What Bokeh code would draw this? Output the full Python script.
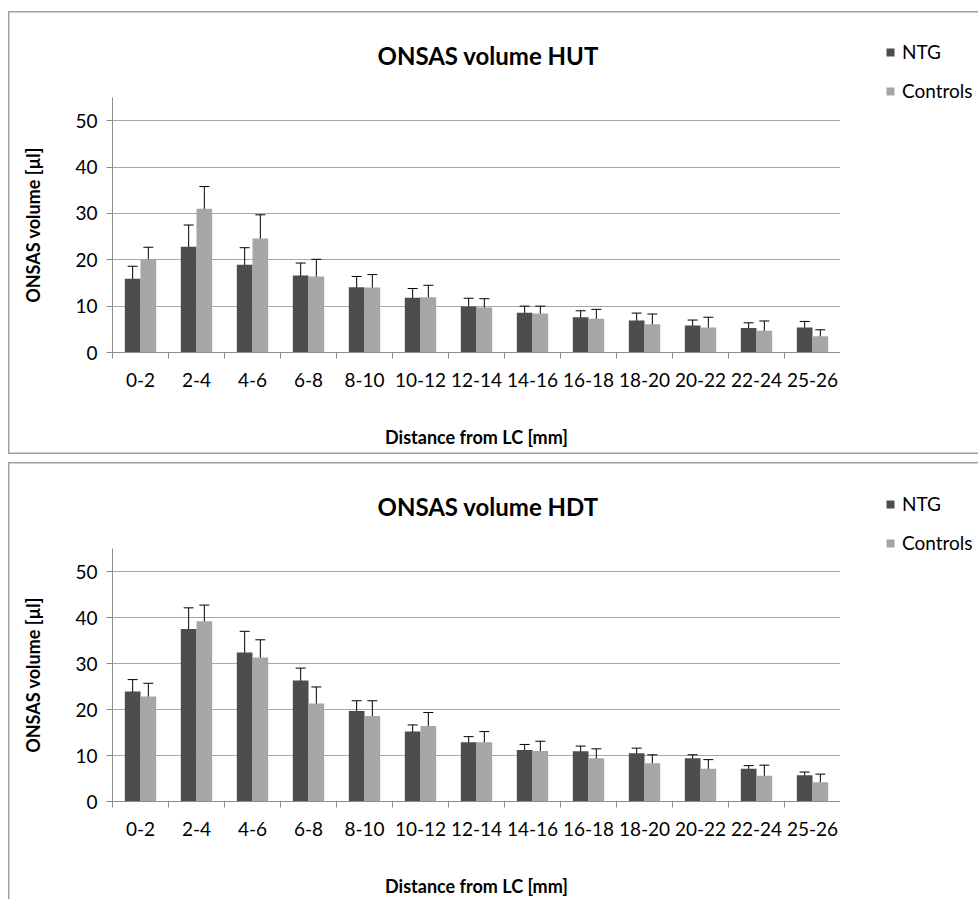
from bokeh.plotting import figure
from bokeh.models import (ColumnDataSource, Range1d, LinearAxis,
                          FixedTicker, Whisker, TeeHead, Legend, LegendItem, Spacer)
from bokeh.layouts import column, row
from bokeh.transform import dodge
from bokeh.embed import file_html
from bokeh.resources import INLINE

categories = ["0-2", "2-4", "4-6", "6-8", "8-10", "10-12", "12-14",
              "14-16", "16-18", "18-20", "20-22", "22-24", "25-26"]

hut_ntg = [15.9, 22.8, 18.9, 16.6, 14.1, 11.8, 9.9, 8.6, 7.6, 6.9, 5.8, 5.3, 5.4]
hut_ntg_err = [2.7, 4.7, 3.7, 2.7, 2.3, 2.0, 1.8, 1.4, 1.4, 1.6, 1.2, 1.1, 1.3]
hut_ctrl = [20.1, 31.0, 24.6, 16.4, 14.0, 11.9, 9.7, 8.4, 7.3, 6.1, 5.4, 4.7, 3.5]
hut_ctrl_err = [2.6, 4.8, 5.1, 3.7, 2.8, 2.6, 1.9, 1.6, 2.0, 2.2, 2.2, 2.1, 1.4]

hdt_ntg = [23.9, 37.5, 32.4, 26.3, 19.7, 15.2, 12.9, 11.2, 10.9, 10.5, 9.4, 7.1, 5.7]
hdt_ntg_err = [2.6, 4.6, 4.6, 2.7, 2.2, 1.45, 1.2, 1.2, 1.15, 1.1, 0.75, 0.7, 0.7]
hdt_ctrl = [22.8, 39.2, 31.3, 21.3, 18.6, 16.4, 12.9, 11.0, 9.4, 8.3, 7.1, 5.6, 4.2]
hdt_ctrl_err = [2.9, 3.5, 3.85, 3.6, 3.3, 2.95, 2.3, 2.1, 2.05, 1.85, 2.0, 2.3, 1.75]

y_ticks = [0, 10, 20, 30, 40, 50]
series_names = ["NTG", "Controls"]
NTG_COLOR = "#4d4d4d"
CTRL_COLOR = "#a6a6a6"
AXIS_COLOR = "#8c8c8c"
GRID_COLOR = "#a8a8a8"
FONT = "Lato"

n = len(categories)
centers = [i + 0.5 for i in range(n)]
boundaries = list(range(n + 1))

MAIN_W = 832
LEG_W = 138


def make_panel(title, ntg, ntg_err, ctrl, ctrl_err, height, legend_y, shadow):
    src = ColumnDataSource(dict(
        pos=centers,
        ntg=ntg,
        ntg_lo=[v - e for v, e in zip(ntg, ntg_err)],
        ntg_hi=[v + e for v, e in zip(ntg, ntg_err)],
        ctrl=ctrl,
        ctrl_lo=[v - e for v, e in zip(ctrl, ctrl_err)],
        ctrl_hi=[v + e for v, e in zip(ctrl, ctrl_err)],
    ))
    p = figure(width=MAIN_W, height=height,
               x_range=Range1d(0, n), y_range=Range1d(0, 55),
               output_backend="svg", toolbar_location=None,
               x_axis_location=None, y_axis_location="left",
               min_border_left=104, min_border_right=0,
               min_border_top=81, min_border_bottom=height - 341,
               title=title)
    p.frame_align = False
    p.border_fill_alpha = 0
    p.background_fill_alpha = 0
    p.outline_line_color = None

    p.title.align = "left"
    p.title.offset = 265
    p.title.standoff = 55
    p.title.text_font = FONT
    p.title.text_font_size = "24px"
    p.title.text_font_style = "bold"
    p.title.text_color = "#000000"

    # y axis
    ya = p.yaxis[0]
    ya.ticker = FixedTicker(ticks=y_ticks, minor_ticks=[])
    ya.axis_label = "ONSAS volume [µl]"
    ya.axis_label_text_font = FONT
    ya.axis_label_text_font_size = "18px"
    ya.axis_label_text_font_style = "bold"
    ya.axis_label_text_color = "#000000"
    ya.axis_label_standoff = 28
    ya.major_label_text_font = FONT
    ya.major_label_text_font_size = "19px"
    ya.major_label_text_color = "#000000"
    ya.major_label_standoff = 9
    ya.major_tick_out = 6
    ya.major_tick_in = 0
    ya.minor_tick_out = 0
    ya.minor_tick_in = 0
    ya.axis_line_color = AXIS_COLOR
    ya.major_tick_line_color = AXIS_COLOR
    p.ygrid.grid_line_color = GRID_COLOR
    p.ygrid.grid_line_width = 1
    for g in p.xgrid:
        g.grid_line_color = None

    # x axis: labels at category centres, tick marks between categories
    xa = LinearAxis(ticker=FixedTicker(ticks=centers, minor_ticks=boundaries),
                    major_label_overrides={c: lab for c, lab in zip(centers, categories)},
                    major_tick_out=0, major_tick_in=0,
                    minor_tick_out=6, minor_tick_in=0,
                    axis_line_color=AXIS_COLOR, major_tick_line_color=None,
                    minor_tick_line_color=AXIS_COLOR,
                    major_label_standoff=14,
                    major_label_text_font=FONT,
                    major_label_text_font_size="19px",
                    major_label_text_color="#000000",
                    axis_label="Distance from LC [mm]",
                    axis_label_text_font=FONT,
                    axis_label_text_font_size="18px",
                    axis_label_text_font_style="bold",
                    axis_label_text_color="#000000",
                    axis_label_standoff=36)
    p.add_layout(xa, "below")

    p.vbar(x=dodge("pos", -0.14), top="ntg", width=0.28,
           source=src, fill_color=NTG_COLOR, line_color=None)
    p.vbar(x=dodge("pos", 0.14), top="ctrl", width=0.28,
           source=src, fill_color=CTRL_COLOR, line_color=None)

    for key, off in (("ntg", -0.14), ("ctrl", 0.14)):
        w = Whisker(base=dodge("pos", off),
                    upper=key + "_hi", lower=key + "_lo", source=src,
                    line_color="black", line_width=1,
                    upper_head=TeeHead(size=10, line_color="black", line_width=1),
                    lower_head=TeeHead(size=10, line_color="black", line_width=1))
        p.add_layout(w)

    # legend area (right-hand strip of the chart box); swatch renderers lie
    # outside this strip's visible range, only their legend swatches show
    lg = figure(width=LEG_W, height=height, x_range=Range1d(0, 1), y_range=Range1d(0, 1),
                output_backend="svg", toolbar_location=None,
                x_axis_location=None, y_axis_location=None,
                min_border_left=0, min_border_right=0,
                min_border_top=0, min_border_bottom=0)
    lg.frame_align = False
    lg.border_fill_alpha = 0
    lg.background_fill_alpha = 0
    lg.outline_line_color = None
    lg.grid.visible = False
    s1 = lg.vbar(x=[-10], top=[-10], width=0.5, fill_color=NTG_COLOR, line_color=None)
    s2 = lg.vbar(x=[-10], top=[-10], width=0.5, fill_color=CTRL_COLOR, line_color=None)
    legend = Legend(items=[LegendItem(label=series_names[0], renderers=[s1]),
                           LegendItem(label=series_names[1], renderers=[s2])],
                    location=(45, legend_y), orientation="vertical",
                    padding=0, margin=0, spacing=16,
                    glyph_width=10, glyph_height=10, label_height=10,
                    label_standoff=7, label_text_font=FONT,
                    label_text_font_size="19px", label_text_color="#000000",
                    label_text_baseline="middle",
                    border_line_color=None, background_fill_alpha=0)
    lg.add_layout(legend)

    return row(p, lg, spacing=0, styles={"box-shadow": shadow})


panel1 = make_panel("ONSAS volume HUT", hut_ntg, hut_ntg_err, hut_ctrl, hut_ctrl_err,
                    443, 352, "inset 1.5px 1.5px 0 #a0a0a0, inset 0 -1.5px 0 #a0a0a0")
panel2 = make_panel("ONSAS volume HDT", hdt_ntg, hdt_ntg_err, hdt_ctrl, hdt_ctrl_err,
                    437, 345, "inset 1.5px 1.5px 0 #a0a0a0")

layout = row(Spacer(width=8),
             column(Spacer(height=11), panel1, Spacer(height=8), panel2, spacing=0),
             spacing=0)

open("out.html", "w").write(file_html(layout, INLINE))
